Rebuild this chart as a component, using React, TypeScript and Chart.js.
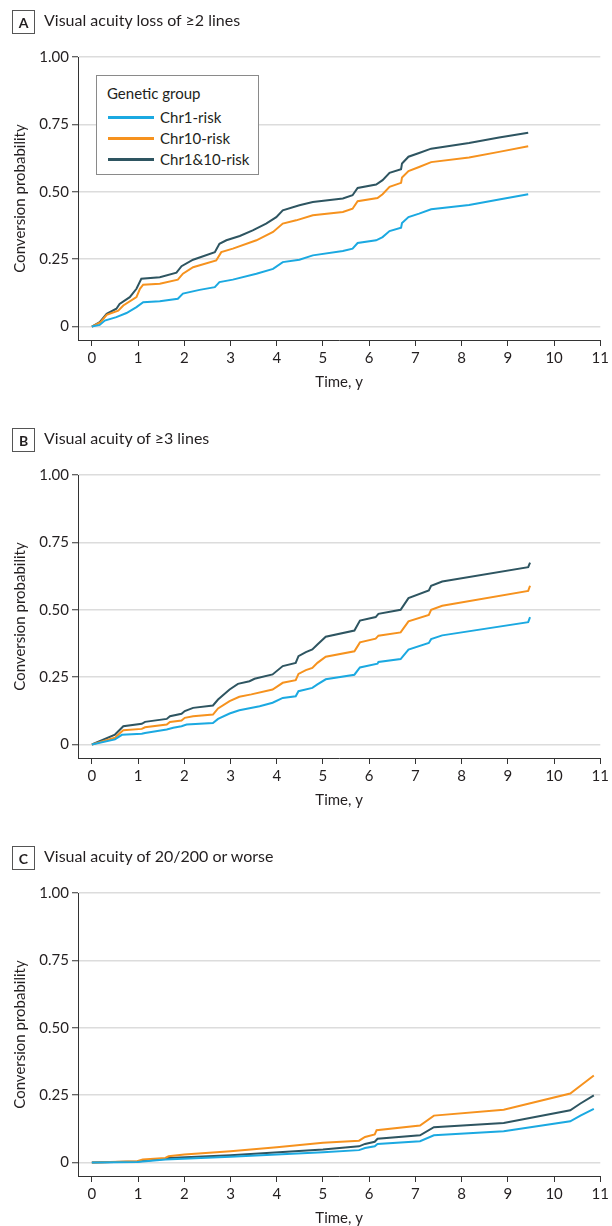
import React, { useEffect, useRef } from "react";
import { Chart, registerables } from "chart.js";

Chart.register(...registerables);

const FONT = "Lato, 'Liberation Sans', sans-serif";
const TEXT = "#231f20";

const SERIES_NAMES = ["Chr1-risk", "Chr10-risk", "Chr1&10-risk"];
const SERIES_COLORS = ["#1ba9e1", "#f6921e", "#2e5561"];

const X_TICKS = [0, 1, 2, 3, 4, 5, 6, 7, 8, 9, 10, 11];
const Y_TICKS = [0, 0.25, 0.5, 0.75, 1];
const Y_TICK_LABELS = ["0", "0.25", "0.50", "0.75", "1.00"];

// Panel A: Visual acuity loss of >=2 lines
const A_CHR1_T = [0, 0.17, 0.28, 0.53, 0.75, 0.965, 1.11, 1.47, 1.86, 1.97, 2.33, 2.66, 2.76, 3.05, 3.56, 3.92, 4.13, 4.49, 4.78, 5.43, 5.64, 5.75, 6.15, 6.29, 6.44, 6.69, 6.71, 6.85, 7.08, 7.34, 8.16, 8.81, 9.44];
const A_CHR1_P = [0, 0.006, 0.022, 0.035, 0.05, 0.072, 0.09, 0.094, 0.103, 0.122, 0.136, 0.146, 0.165, 0.174, 0.196, 0.214, 0.239, 0.248, 0.264, 0.28, 0.289, 0.31, 0.32, 0.332, 0.354, 0.367, 0.384, 0.406, 0.419, 0.435, 0.451, 0.471, 0.491];
const A_CHR10_T = [0, 0.19, 0.32, 0.57, 0.68, 0.965, 1.04, 1.11, 1.47, 1.86, 1.97, 2.19, 2.69, 2.8, 3.05, 3.56, 3.92, 4.13, 4.42, 4.78, 5.43, 5.64, 5.75, 6.18, 6.29, 6.44, 6.69, 6.71, 6.85, 7.08, 7.34, 8.16, 8.81, 9.44];
const A_CHR10_P = [0, 0.016, 0.043, 0.059, 0.078, 0.109, 0.14, 0.155, 0.159, 0.174, 0.196, 0.22, 0.245, 0.276, 0.289, 0.32, 0.351, 0.382, 0.394, 0.413, 0.425, 0.437, 0.465, 0.477, 0.491, 0.518, 0.533, 0.553, 0.577, 0.592, 0.61, 0.627, 0.648, 0.669];
const A_BOTH_T = [0, 0.17, 0.32, 0.53, 0.6, 0.82, 0.965, 1.07, 1.47, 1.83, 1.94, 2.19, 2.66, 2.76, 2.91, 3.2, 3.48, 3.77, 3.99, 4.13, 4.49, 4.78, 5.43, 5.64, 5.75, 6.15, 6.29, 6.44, 6.69, 6.71, 6.85, 7.08, 7.34, 8.16, 8.81, 9.44];
const A_BOTH_P = [0, 0.016, 0.047, 0.066, 0.084, 0.109, 0.14, 0.177, 0.183, 0.2, 0.224, 0.248, 0.276, 0.307, 0.32, 0.336, 0.357, 0.382, 0.406, 0.431, 0.45, 0.462, 0.475, 0.487, 0.514, 0.527, 0.543, 0.57, 0.584, 0.605, 0.63, 0.644, 0.66, 0.681, 0.701, 0.719];

// Panel B: Visual acuity of >=3 lines
const B_CHR1_T = [0, 0.5, 0.65, 1.08, 1.15, 1.62, 1.76, 1.94, 2.05, 2.62, 2.73, 2.98, 3.19, 3.63, 3.91, 4.13, 4.41, 4.47, 4.77, 4.88, 5.06, 5.68, 5.8, 6.18, 6.2, 6.68, 6.85, 7.29, 7.34, 7.58, 9.44, 9.48];
const B_CHR1_P = [0, 0.019, 0.036, 0.04, 0.043, 0.056, 0.062, 0.068, 0.074, 0.08, 0.095, 0.115, 0.127, 0.142, 0.155, 0.173, 0.179, 0.198, 0.21, 0.223, 0.242, 0.259, 0.286, 0.3, 0.306, 0.317, 0.352, 0.377, 0.391, 0.405, 0.454, 0.473];
const B_CHR10_T = [0, 0.5, 0.61, 0.68, 1.08, 1.15, 1.62, 1.69, 1.94, 2.01, 2.19, 2.62, 2.73, 2.98, 3.19, 3.45, 3.91, 4.13, 4.41, 4.47, 4.63, 4.77, 4.88, 5.06, 5.68, 5.8, 6.14, 6.2, 6.68, 6.85, 7.29, 7.34, 7.58, 9.44, 9.48];
const B_CHR10_P = [0, 0.025, 0.043, 0.053, 0.058, 0.064, 0.074, 0.084, 0.089, 0.099, 0.105, 0.111, 0.134, 0.161, 0.177, 0.186, 0.204, 0.229, 0.239, 0.262, 0.276, 0.284, 0.303, 0.326, 0.346, 0.379, 0.393, 0.404, 0.416, 0.457, 0.481, 0.5, 0.515, 0.57, 0.589];
const B_BOTH_T = [0, 0.5, 0.61, 0.68, 1.08, 1.15, 1.62, 1.69, 1.94, 2.01, 2.19, 2.62, 2.73, 2.98, 3.16, 3.41, 3.52, 3.91, 4.13, 4.41, 4.47, 4.63, 4.77, 4.88, 5.06, 5.68, 5.8, 6.14, 6.2, 6.68, 6.85, 7.29, 7.34, 7.58, 9.44, 9.48];
const B_BOTH_P = [0, 0.037, 0.056, 0.068, 0.077, 0.084, 0.095, 0.105, 0.114, 0.124, 0.136, 0.145, 0.167, 0.204, 0.225, 0.235, 0.244, 0.26, 0.291, 0.303, 0.328, 0.343, 0.353, 0.371, 0.4, 0.423, 0.46, 0.473, 0.485, 0.5, 0.543, 0.572, 0.589, 0.605, 0.658, 0.675];

// Panel C: Visual acuity of 20/200 or worse
const C_CHR1_T = [0, 0.98, 1.59, 3, 5, 5.78, 5.91, 6.12, 6.18, 7.1, 7.4, 8.91, 10.35, 10.57, 10.86];
const C_CHR1_P = [0, 0.002, 0.011, 0.021, 0.038, 0.046, 0.054, 0.06, 0.069, 0.079, 0.101, 0.116, 0.153, 0.174, 0.199];
const C_CHR10_T = [0, 0.98, 1.1, 1.59, 1.66, 2, 3, 4, 5, 5.78, 5.91, 6.12, 6.16, 7.1, 7.4, 8.91, 10.35, 10.57, 10.86];
const C_CHR10_P = [0, 0.005, 0.011, 0.017, 0.023, 0.03, 0.042, 0.057, 0.073, 0.081, 0.095, 0.104, 0.12, 0.137, 0.174, 0.196, 0.256, 0.285, 0.323];
const C_BOTH_T = [0, 0.98, 1.59, 1.66, 3, 5, 5.78, 5.91, 6.12, 6.18, 7.1, 7.4, 8.91, 10.35, 10.57, 10.86];
const C_BOTH_P = [0, 0.004, 0.014, 0.017, 0.027, 0.048, 0.06, 0.069, 0.077, 0.088, 0.101, 0.131, 0.147, 0.194, 0.219, 0.249];

type Series = { t: number[]; p: number[] };

function Panel(props: {
  top: number;
  letter: string;
  title: string;
  series: Series[];
  legend: boolean;
}) {
  const ref = useRef<HTMLCanvasElement>(null);
  useEffect(() => {
    let chart: Chart | null = null;
    let cancelled = false;
    const make = () => {
      if (cancelled || !ref.current) return;
      chart = new Chart(ref.current, {
        type: "line",
        data: {
          datasets: props.series.map((s, i) => ({
            label: SERIES_NAMES[i],
            data: s.t.map((x, j) => ({ x, y: s.p[j] })),
            borderColor: SERIES_COLORS[i],
            backgroundColor: SERIES_COLORS[i],
            borderWidth: 2,
            pointRadius: 0,
            tension: 0,
            fill: false,
          })),
        },
        options: {
          animation: false,
          responsive: false,
          devicePixelRatio: 1,
          layout: { padding: { top: 57, right: 9, bottom: 0, left: 0 } },
          plugins: { legend: { display: false }, tooltip: { enabled: false } },
          scales: {
            x: {
              type: "linear",
              min: -0.3,
              max: 11,
              afterBuildTicks: (s: any) => {
                s.ticks = X_TICKS.map((v) => ({ value: v }));
              },
              afterFit: (s: any) => {
                s.height = 78;
              },
              ticks: {
                font: { family: FONT, size: 15 },
                color: TEXT,
                padding: 3,
                maxRotation: 0,
                autoSkip: false,
                callback: (v: any) => String(v),
              },
              grid: { drawOnChartArea: false, tickLength: 6, tickColor: "#333", color: "#333" },
              border: { color: "#333", width: 1 },
              title: {
                display: true,
                text: "Time, y",
                font: { family: FONT, size: 15 },
                color: TEXT,
                padding: { top: 0, bottom: 27 },
              },
            },
            y: {
              type: "linear",
              min: -0.05,
              max: 1,
              afterBuildTicks: (s: any) => {
                s.ticks = Y_TICKS.map((v) => ({ value: v }));
              },
              afterFit: (s: any) => {
                s.width = 78;
              },
              ticks: {
                font: { family: FONT, size: 15 },
                color: TEXT,
                padding: 3,
                callback: (v: any) => {
                  const k = Y_TICKS.indexOf(Number(v));
                  return k >= 0 ? Y_TICK_LABELS[k] : "";
                },
              },
              grid: { color: "#dcdcdc", lineWidth: 1.5, tickLength: 6, tickColor: "#333", tickWidth: 1 },
              border: { color: "#333", width: 1 },
              title: {
                display: true,
                text: "Conversion probability",
                font: { family: FONT, size: 15 },
                color: TEXT,
                padding: { top: 11, bottom: 0 },
              },
            },
          },
        } as any,
      });
    };
    if ((document as any).fonts && (document as any).fonts.load) {
      (document as any).fonts.load("15px Lato").then(make, make);
    } else {
      make();
    }
    return () => {
      cancelled = true;
      if (chart) chart.destroy();
    };
  }, []);

  return (
    <div style={{ position: "absolute", left: 0, top: props.top, width: 612, height: 418 }}>
      <canvas ref={ref} width={612} height={418} style={{ position: "absolute", left: 0, top: 0, width: 612, height: 418 }} />
      <div
        style={{
          position: "absolute",
          left: 12,
          top: 10,
          width: 23,
          height: 24,
          boxSizing: "border-box",
          border: "1px solid #555",
          font: `bold 14px ${FONT}`,
          color: TEXT,
          display: "flex",
          alignItems: "center",
          justifyContent: "center",
        }}
      >
        {props.letter}
      </div>
      <div
        style={{
          position: "absolute",
          left: 44,
          top: 10,
          height: 24,
          lineHeight: "24px",
          font: `16px ${FONT}`,
          color: TEXT,
          whiteSpace: "nowrap",
        }}
      >
        {props.title}
      </div>
      {props.legend && (
        <div
          style={{
            position: "absolute",
            left: 96,
            top: 75,
            width: 163,
            height: 100,
            boxSizing: "border-box",
            border: "1px solid #8a8a8a",
            background: "#fff",
            font: `15px ${FONT}`,
            color: TEXT,
          }}
        >
          <div style={{ position: "absolute", left: 10, top: 7, lineHeight: "20px", whiteSpace: "nowrap" }}>Genetic group</div>
          {SERIES_NAMES.map((n, i) => (
            <React.Fragment key={n}>
              <div
                style={{
                  position: "absolute",
                  left: 11,
                  top: 40 + i * 21,
                  width: 46,
                  height: 2.5,
                  background: SERIES_COLORS[i],
                }}
              />
              <div style={{ position: "absolute", left: 63, top: 31 + i * 21, lineHeight: "20px", whiteSpace: "nowrap" }}>{n}</div>
            </React.Fragment>
          ))}
        </div>
      )}
    </div>
  );
}

export default function App() {
  return (
    <div style={{ position: "absolute", left: 0, top: 0, width: 612, height: 1226, overflow: "hidden", background: "#fff" }}>
      <Panel
        top={0}
        letter="A"
        title="Visual acuity loss of ≥2 lines"
        legend={true}
        series={[
          { t: A_CHR1_T, p: A_CHR1_P },
          { t: A_CHR10_T, p: A_CHR10_P },
          { t: A_BOTH_T, p: A_BOTH_P },
        ]}
      />
      <Panel
        top={418}
        letter="B"
        title="Visual acuity of ≥3 lines"
        legend={false}
        series={[
          { t: B_CHR1_T, p: B_CHR1_P },
          { t: B_CHR10_T, p: B_CHR10_P },
          { t: B_BOTH_T, p: B_BOTH_P },
        ]}
      />
      <Panel
        top={836}
        letter="C"
        title="Visual acuity of 20/200 or worse"
        legend={false}
        series={[
          { t: C_CHR1_T, p: C_CHR1_P },
          { t: C_CHR10_T, p: C_CHR10_P },
          { t: C_BOTH_T, p: C_BOTH_P },
        ]}
      />
    </div>
  );
}
